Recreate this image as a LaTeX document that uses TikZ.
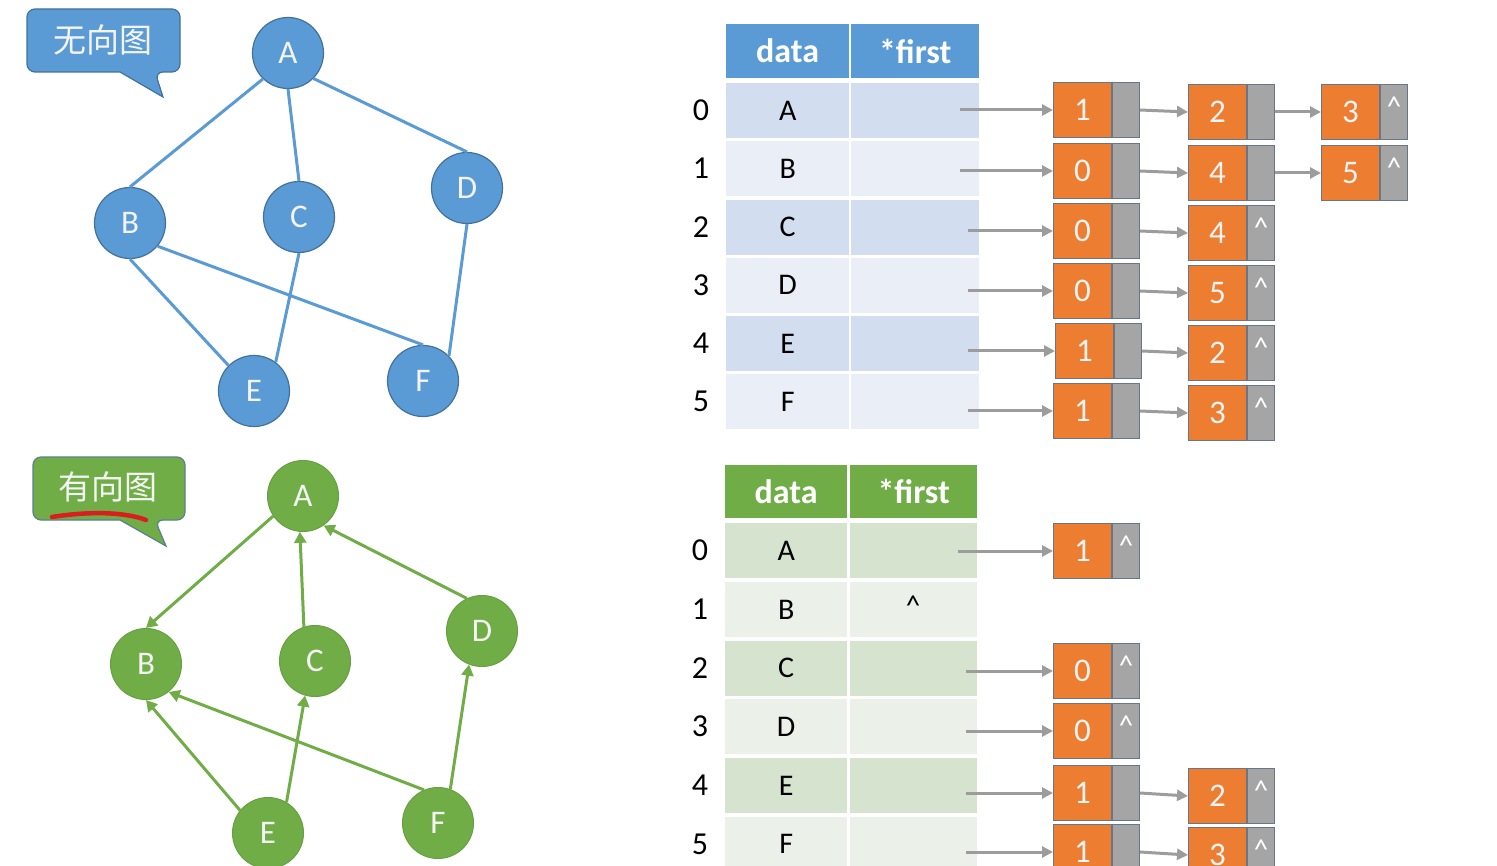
\documentclass[tikz,border=0pt]{standalone}
\usepackage{fontspec}
\setmainfont{Carlito}
\newfontfamily\cjk{Noto Sans CJK SC}
\usetikzlibrary{arrows.meta}
\definecolor{bnode}{HTML}{5B9BD5}
\definecolor{bborder}{HTML}{41719C}
\definecolor{gnode}{HTML}{70AD47}
\definecolor{gcall}{HTML}{5B7F8E}
\definecolor{browa}{HTML}{D2DEEF}
\definecolor{browb}{HTML}{EAEFF7}
\definecolor{growa}{HTML}{D5E3CF}
\definecolor{growb}{HTML}{EBF1E9}
\definecolor{orng}{HTML}{ED7D31}
\definecolor{gry}{HTML}{A5A5A5}
\definecolor{nborder}{HTML}{66778A}
\definecolor{ptrc}{HTML}{9C9C9C}
\definecolor{ltxt}{HTML}{F4F4F4}
\definecolor{scrib}{HTML}{D81E1E}
\tikzset{
  vtx/.style={circle, minimum size=71pt, inner sep=0pt, text=ltxt, font=\fontsize{33}{40}\selectfont},
  bv/.style={vtx, fill=bnode, draw=bborder, line width=1.2pt},
  gv/.style={vtx, fill=gnode, draw=gnode!92!black, line width=1pt},
  bedge/.style={draw=bnode, line width=3pt},
  gedge/.style={draw=gnode, line width=3pt, -{Triangle[width=12pt,length=11pt]}},
  cell/.style={minimum height=55pt, inner sep=0pt, anchor=north west, font=\fontsize{30}{36}\selectfont},
  hdr/.style={cell, minimum height=54pt, text=white, font=\fontsize{34}{40}\selectfont\bfseries},
  idx/.style={font=\fontsize{32}{38}\selectfont},
  val/.style={minimum width=58pt, minimum height=55pt, inner sep=0pt, anchor=north west, fill=orng, draw=nborder, line width=1pt, text=ltxt, font=\fontsize{33}{40}\selectfont},
  nxt/.style={minimum width=27pt, minimum height=55pt, inner sep=0pt, anchor=west, fill=gry, draw=nborder, line width=1pt, text=white, font=\fontsize{27}{32}\selectfont},
  caret/.style={anchor=north, inner sep=0pt, yshift=-13pt},
  ptr/.style={draw=ptrc, line width=3pt, -{Triangle[width=11pt,length=11pt]}},
  callout/.style={line width=1.2pt, rounded corners=8pt},
  calltext/.style={text=ltxt, font=\cjk\fontsize{33}{40}\selectfont},
}
\newcommand\nil[1]{\node[caret, text=white, font=\fontsize{29}{34}\selectfont] at (#1.north) {\textasciicircum};}
\begin{document}
\begin{tikzpicture}[x=1pt, y=-1pt]
\path[use as bounding box] (0,0) rectangle (1497,866);
\clip (0,0) rectangle (1497,866);
\fill[white] (0,0) rectangle (1497,866);

% ---------- undirected graph ----------
\path[callout, fill=bnode, draw=bborder] (27,40) -- (27,9) -- (180,9) -- (180,72) -- (155,72) [sharp corners] -- (163,97) -- (120,72) [rounded corners=8pt] -- (27,72) -- cycle;
\node[calltext] (tU) at (103,40) {无向图};

\node[bv] (uA) at (288,53) {A};
\node[bv] (uB) at (130,223) {B};
\node[bv] (uC) at (299,217) {C};
\node[bv] (uD) at (467,188) {D};
\node[bv] (uE) at (254,391) {E};
\node[bv] (uF) at (423,381) {F};
\draw[bedge] (uA.226) -- (uB.north);
\draw[bedge] (uA.south) -- (uC.north);
\draw[bedge] (uA.-45) -- (uD.north);
\draw[bedge] (uB.south) -- (uE.135);
\draw[bedge] (uB.-40) -- (uF.north);
\draw[bedge] (uC.south) -- (uE.53);
\draw[bedge] (uD.south) -- (uF.44);

% ---------- directed graph ----------
\path[callout, fill=gnode, draw=gcall] (33,488) -- (33,457) -- (185,457) -- (185,520) -- (155,520) [sharp corners] -- (166,546) -- (120,520) [rounded corners=8pt] -- (33,520) -- cycle;
\node[calltext] (tD) at (108,487) {有向图};
\draw[scrib, line width=4.5pt, line cap=round] (52,517) .. controls (90,511) and (125,512) .. (146,520);

\node[gv] (gA) at (303,496) {A};
\node[gv] (gB) at (146,664) {B};
\node[gv] (gC) at (315,661) {C};
\node[gv] (gD) at (482,631) {D};
\node[gv] (gE) at (268,833) {E};
\node[gv] (gF) at (438,823) {F};
\draw[gedge] (gA.214) -- (gB.north);
\draw[gedge] (gC.108) -- (gA.265);
\draw[gedge] (gD.115) -- (gA.-55);
\draw[gedge] (gE.141) -- (gB.south);
\draw[gedge] (gE.59) -- (gC.254);
\draw[gedge] (gF.113) -- (gB.-51);
\draw[gedge] (gF.70) -- (gD.249);

% ---------- blue table ----------
\node[hdr, fill=bnode, minimum width=123pt] (bHd) at (726,24) {data};
\node[hdr, fill=bnode, minimum width=128pt] (bHf) at (851,24) {*first};
\foreach \i/\L in {0/A,1/B,2/C,3/D,4/E,5/F} {
  \ifodd\i \def\rc{browb}\else\def\rc{browa}\fi
  \pgfmathsetmacro\tp{83+58.2*\i}
  \node[cell, fill=\rc, minimum width=123pt] (bD\i) at (726,\tp) {\L};
  \node[cell, fill=\rc, minimum width=128pt] (bF\i) at (851,\tp) {};
  \node[idx] (bI\i) at (701,\tp+27.5) {\i};
}

% list nodes (blue)
\node[val] (b0v1) at (1053,82) {1};  \node[nxt] (b0p1) at (b0v1.east) {};
\node[val] (b0v2) at (1188,84) {2};  \node[nxt] (b0p2) at (b0v2.east) {};
\node[val] (b0v3) at (1321,84) {3};  \node[nxt] (b0p3) at (b0v3.east) {}; \nil{b0p3}
\node[val] (b1v1) at (1053,143) {0}; \node[nxt] (b1p1) at (b1v1.east) {};
\node[val] (b1v2) at (1188,145) {4}; \node[nxt] (b1p2) at (b1v2.east) {};
\node[val] (b1v3) at (1321,145) {5}; \node[nxt] (b1p3) at (b1v3.east) {}; \nil{b1p3}
\node[val] (b2v1) at (1053,203) {0}; \node[nxt] (b2p1) at (b2v1.east) {};
\node[val] (b2v2) at (1188,205) {4}; \node[nxt] (b2p2) at (b2v2.east) {}; \nil{b2p2}
\node[val] (b3v1) at (1053,263) {0}; \node[nxt] (b3p1) at (b3v1.east) {};
\node[val] (b3v2) at (1188,265) {5}; \node[nxt] (b3p2) at (b3v2.east) {}; \nil{b3p2}
\node[val] (b4v1) at (1055,323) {1}; \node[nxt] (b4p1) at (b4v1.east) {};
\node[val] (b4v2) at (1188,325) {2}; \node[nxt] (b4p2) at (b4v2.east) {}; \nil{b4p2}
\node[val] (b5v1) at (1053,383) {1}; \node[nxt] (b5p1) at (b5v1.east) {};
\node[val] (b5v2) at (1188,385) {3}; \node[nxt] (b5p2) at (b5v2.east) {}; \nil{b5p2}

\coordinate (bs0) at (960,0);
\coordinate (bs1) at (960,0);
\coordinate (bs2) at (968,0);
\coordinate (bs3) at (968,0);
\coordinate (bs4) at (968,0);
\coordinate (bs5) at (968,0);
\foreach \i in {0,...,5} { \draw[ptr] (b\i v1.west -| bs\i) -- (b\i v1.west); }
\draw[ptr] (b0p1.east) -- (b0v2.west);
\draw[ptr] (b0p2.east) -- (b0v3.west);
\draw[ptr] (b1p1.east) -- (b1v2.west);
\draw[ptr] (b1p2.east) -- (b1v3.west);
\draw[ptr] (b2p1.east) -- (b2v2.west);
\draw[ptr] (b3p1.east) -- (b3v2.west);
\draw[ptr] (b4p1.east) -- (b4v2.west);
\draw[ptr] (b5p1.east) -- (b5v2.west);

% ---------- green table ----------
\node[hdr, fill=gnode, minimum width=122pt, minimum height=53pt] (gHd) at (725,465) {data};
\node[hdr, fill=gnode, minimum width=127pt, minimum height=53pt] (gHf) at (850,465) {*first};
\foreach \i/\L in {0/A,1/B,2/C,3/D,4/E,5/F} {
  \ifodd\i \def\rc{growb}\else\def\rc{growa}\fi
  \pgfmathsetmacro\tp{523+58.7*\i}
  \node[cell, fill=\rc, minimum width=122pt] (gD\i) at (725,\tp) {\L};
  \node[cell, fill=\rc, minimum width=127pt] (gF\i) at (850,\tp) {};
  \node[idx] (gI\i) at (700,\tp+27.5) {\i};
}
\node[font=\fontsize{29}{34}\selectfont] (gNil) at (913,606) {\textasciicircum};

% list nodes (green)
\node[val] (g0v1) at (1053,523) {1}; \node[nxt] (g0p1) at (g0v1.east) {}; \nil{g0p1}
\node[val] (g2v1) at (1053,643) {0}; \node[nxt] (g2p1) at (g2v1.east) {}; \nil{g2p1}
\node[val] (g3v1) at (1053,703) {0}; \node[nxt] (g3p1) at (g3v1.east) {}; \nil{g3p1}
\node[val] (g4v1) at (1053,765) {1}; \node[nxt] (g4p1) at (g4v1.east) {};
\node[val] (g4v2) at (1188,768) {2}; \node[nxt] (g4p2) at (g4v2.east) {}; \nil{g4p2}
\node[val] (g5v1) at (1053,824) {1}; \node[nxt] (g5p1) at (g5v1.east) {};
\node[val] (g5v2) at (1188,827) {3}; \node[nxt] (g5p2) at (g5v2.east) {}; \nil{g5p2}

\coordinate (gs0) at (958,0);
\coordinate (gs2) at (966,0);
\coordinate (gs3) at (966,0);
\coordinate (gs4) at (966,0);
\coordinate (gs5) at (966,0);
\foreach \i in {0,2,3,4,5} { \draw[ptr] (g\i v1.west -| gs\i) -- (g\i v1.west); }
\draw[ptr] (g4p1.east) -- (g4v2.west);
\draw[ptr] (g5p1.east) -- (g5v2.west);
\end{tikzpicture}
\end{document}
